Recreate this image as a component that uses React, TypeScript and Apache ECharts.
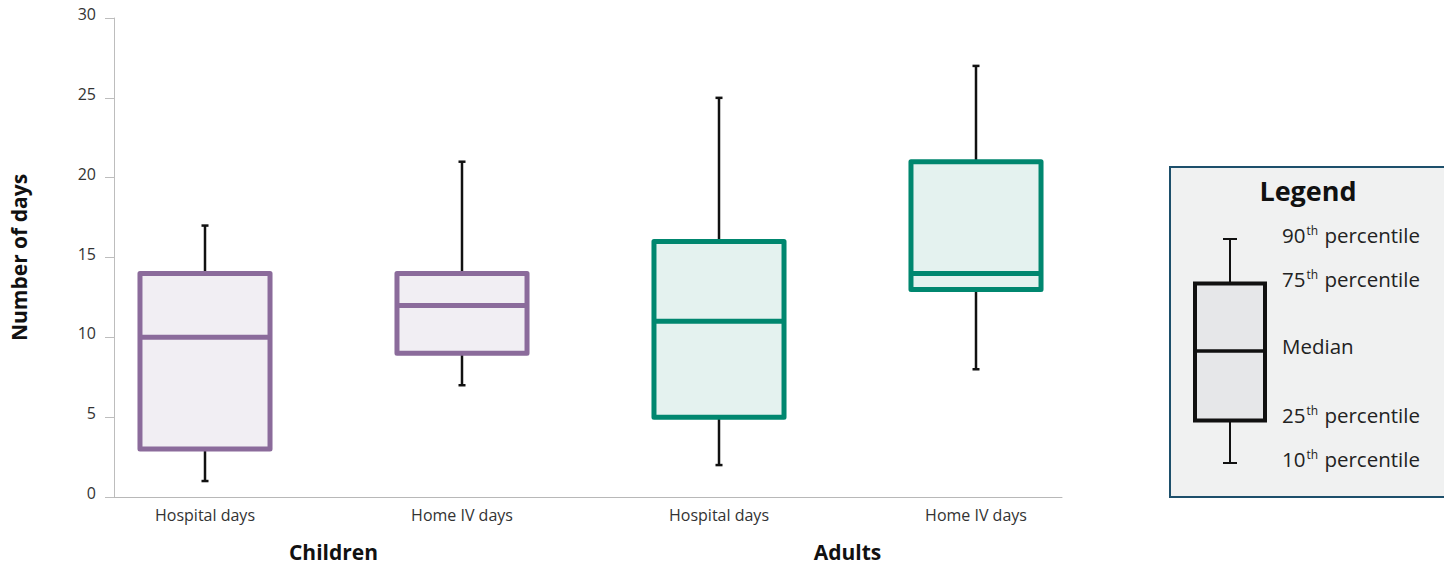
import React, { useEffect, useRef } from "react";
import * as echarts from "echarts";

const categories = ["Hospital days", "Home IV days", "Hospital days", "Home IV days"];
const groups = ["Children", "Adults"];
const p10 = [1, 7, 2, 8];
const q1 = [3, 9, 5, 13];
const median = [10, 12, 11, 14];
const q3 = [14, 14, 16, 21];
const p90 = [17, 21, 25, 27];
const yTicks = { min: 0, max: 30, interval: 5 };
const legendLabels = [
  { num: "90", suffix: "th", rest: " percentile" },
  { num: "75", suffix: "th", rest: " percentile" },
  { num: "", suffix: "", rest: "Median" },
  { num: "25", suffix: "th", rest: " percentile" },
  { num: "10", suffix: "th", rest: " percentile" },
];

const strokeColors = ["#8b6b9b", "#8b6b9b", "#00876f", "#00876f"];
const fillColors = ["#f1eef3", "#f1eef3", "#e4f2ef", "#e4f2ef"];
const FONT = "'Open Sans', 'Noto Sans', sans-serif";

export default function App() {
  const ref = useRef<HTMLDivElement>(null);
  useEffect(() => {
    if (!ref.current) return;
    const chart = echarts.init(ref.current, null, { renderer: "svg" });
    const data = categories.map((_, i) => [i, p10[i], q1[i], median[i], q3[i], p90[i]]);

    const renderItem = (params: any, api: any) => {
      const i = params.dataIndex;
      const idx = api.value(0);
      const x = api.coord([idx, 0])[0];
      const band = api.size([1, 0])[0];
      const w = band * 0.506;
      const y = (v: number) => api.coord([idx, v])[1];
      const yLo = y(api.value(1));
      const yQ1 = y(api.value(2));
      const yMed = y(api.value(3));
      const yQ3 = y(api.value(4));
      const yHi = y(api.value(5));
      const blk = { stroke: "#111", lineWidth: 2.5 };
      const cap = 3.5;
      return {
        type: "group",
        children: [
          { type: "line", shape: { x1: x, y1: yQ3, x2: x, y2: yHi }, style: blk },
          { type: "line", shape: { x1: x - cap, y1: yHi, x2: x + cap, y2: yHi }, style: blk },
          { type: "line", shape: { x1: x, y1: yQ1, x2: x, y2: yLo }, style: blk },
          { type: "line", shape: { x1: x - cap, y1: yLo, x2: x + cap, y2: yLo }, style: blk },
          {
            type: "rect",
            shape: { x: x - w / 2, y: yQ3, width: w, height: yQ1 - yQ3 },
            style: { fill: fillColors[i], stroke: strokeColors[i], lineWidth: 5, lineJoin: "round" },
          },
          {
            type: "line",
            shape: { x1: x - w / 2, y1: yMed, x2: x + w / 2, y2: yMed },
            style: { stroke: strokeColors[i], lineWidth: 5 },
          },
        ],
      };
    };

    const L = { x: 1169, y: 166 };
    const bx = 1230;
    const legendYs = [235, 279, 346, 415, 459];
    const legendGraphic: any[] = [
      {
        type: "rect",
        left: L.x,
        top: L.y,
        shape: { x: 0, y: 0, width: 277, height: 330 },
        style: { fill: "#f0f1f1", stroke: "#1d4f6b", lineWidth: 2 },
      },
      {
        type: "text",
        x: 1308,
        y: 190,
        style: { text: "Legend", font: `bold 27px ${FONT}`, fill: "#111", align: "center", verticalAlign: "middle" },
      },
      { type: "line", shape: { x1: bx, y1: 239, x2: bx, y2: 282 }, style: { stroke: "#111", lineWidth: 2 } },
      { type: "line", shape: { x1: bx - 7, y1: 239, x2: bx + 7, y2: 239 }, style: { stroke: "#111", lineWidth: 2 } },
      { type: "line", shape: { x1: bx, y1: 421, x2: bx, y2: 463 }, style: { stroke: "#111", lineWidth: 2 } },
      { type: "line", shape: { x1: bx - 7, y1: 463, x2: bx + 7, y2: 463 }, style: { stroke: "#111", lineWidth: 2 } },
      {
        type: "rect",
        shape: { x: 1195, y: 283.5, width: 70, height: 137 },
        style: { fill: "#e6e7e9", stroke: "#111", lineWidth: 4 },
      },
      { type: "line", shape: { x1: 1195, y1: 351, x2: 1265, y2: 351 }, style: { stroke: "#111", lineWidth: 3.5 } },
      ...legendLabels.map((l, k) => ({
        type: "text",
        x: 1282,
        y: legendYs[k],
        style: {
          text: l.num ? `{a|${l.num}}{s|${l.suffix}}{a|${l.rest}}` : `{a|${l.rest}}`,
          align: "left",
          verticalAlign: "middle",
          rich: {
            a: { font: `20.5px ${FONT}`, fill: "#222", lineHeight: 24 },
            s: { font: `12px ${FONT}`, fill: "#222", lineHeight: 24, padding: [0, 1, 9, 1] },
          },
        },
      })),
    ];

    chart.setOption({
      animation: false,
      textStyle: { fontFamily: FONT },
      grid: [
        { left: 112, right: 390, top: 18, bottom: 68 },
        { left: 76.5, width: 1028, top: 18, bottom: 68 },
      ],
      xAxis: [
        {
          type: "value",
          gridIndex: 0,
          min: 0,
          max: 1,
          axisLine: { show: true, lineStyle: { color: "#b8b8b8", width: 1 } },
          axisTick: { show: false },
          axisLabel: { show: false },
          splitLine: { show: false },
        },
        {
          type: "category",
          gridIndex: 1,
          data: categories,
          axisLine: { show: false },
          axisTick: { show: false },
          axisLabel: { fontSize: 16, color: "#333", margin: 10, fontFamily: FONT },
        },
        {
          type: "category",
          gridIndex: 1,
          data: groups,
          position: "bottom",
          offset: 36,
          axisLine: { show: false },
          axisTick: { show: false },
          axisLabel: { fontSize: 21, fontWeight: "bold", color: "#111", margin: 8, fontFamily: FONT },
        },
      ],
      yAxis: [
        {
          type: "value",
          gridIndex: 0,
          min: yTicks.min,
          max: yTicks.max,
          interval: yTicks.interval,
          name: "Number of days",
          nameLocation: "middle",
          nameGap: 85,
          nameTextStyle: { fontSize: 21, fontWeight: "bold", color: "#111", fontFamily: FONT },
          axisLine: { show: true, lineStyle: { color: "#bdbdbd" } },
          axisTick: { show: true, length: 9, lineStyle: { color: "#bdbdbd" } },
          axisLabel: {
            fontSize: 16,
            color: "#333",
            margin: 18,
            fontFamily: FONT,
            verticalAlign: "bottom",
            lineHeight: 8,
          },
          splitLine: { show: false },
        },
        {
          type: "value",
          gridIndex: 1,
          min: yTicks.min,
          max: yTicks.max,
          interval: yTicks.interval,
          show: false,
        },
      ],
      series: [
        {
          type: "custom",
          xAxisIndex: 1,
          yAxisIndex: 1,
          renderItem,
          data,
          encode: { x: 0, y: [1, 2, 3, 4, 5] },
          clip: false,
        },
      ],
      graphic: legendGraphic,
    });
    return () => chart.dispose();
  }, []);
  return <div ref={ref} style={{ width: 1452, height: 565, margin: "-8px -8px 0 -8px" }} />;
}
